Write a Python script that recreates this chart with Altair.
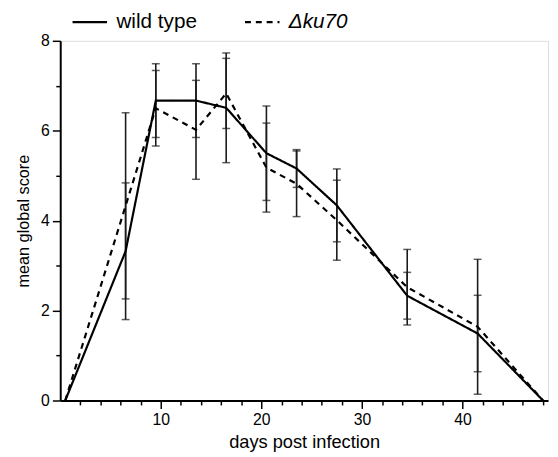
import altair as alt
import pandas as pd

days = [0.5, 6.5, 9.5, 13.5, 16.5, 20.5, 23.5, 27.5, 34.5, 41.5, 48]
wild_type = [0, 3.32, 6.67, 6.67, 6.51, 5.50, 5.16, 4.34, 2.33, 1.49, 0]
wild_err = [None, 1.52, 0.82, 0.82, 1.22, 1.05, 0.42, 0.81, 0.52, 0.85, None]
ku70 = [0, 4.33, 6.50, 6.02, 6.83, 5.18, 4.82, 4.01, 2.52, 1.64, 0]
ku70_err = [None, 2.07, 0.84, 1.10, 0.78, 0.99, 0.73, 0.89, 0.84, 1.50, None]
series_names = ["wild type", "\u0394ku70"]
x_major = [10, 20, 30, 40]
x_minor = [v for v in range(0, 49, 2) if v % 10 != 0]
y_major = [0, 2, 4, 6, 8]
y_minor = [1, 3, 5, 7]

rows = []
for name, vals, errs in [(series_names[0], wild_type, wild_err), (series_names[1], ku70, ku70_err)]:
    for d, v, e in zip(days, vals, errs):
        rows.append({"day": d, "score": v, "series": name,
                     "lo": None if e is None else v - e,
                     "hi": None if e is None else v + e})
df = pd.DataFrame(rows)

FONT = "Liberation Sans"

x_axis = alt.Axis(title="days post infection", orient="bottom",
                  values=x_major, labelOverlap=False, tickSize=8,
                  grid=False, domainColor="black", domainWidth=2,
                  tickColor="black", tickWidth=1.5, labelColor="black",
                  labelFontSize=16, labelFont=FONT, labelPadding=3,
                  titleFontSize=18.5, titleFont=FONT, titleFontWeight="normal",
                  titleColor="black", titlePadding=6)
y_axis = alt.Axis(title="mean global score", orient="left",
                  values=y_major, labelOverlap=False, tickSize=8,
                  grid=False, domainColor="black", domainWidth=2,
                  tickColor="black", tickWidth=1.5, labelColor="black",
                  labelFontSize=16, labelFont=FONT, labelPadding=3,
                  titleFontSize=16.5, titleFont=FONT, titleFontWeight="normal",
                  titleColor="black", titlePadding=9)
x_minor_axis = alt.Axis(title=None, orient="bottom", values=x_minor, labels=False,
                        domain=False, grid=False, tickSize=4.5, tickColor="black", tickWidth=1.5)
y_minor_axis = alt.Axis(title=None, orient="left", values=y_minor, labels=False,
                        domain=False, grid=False, tickSize=4.5, tickColor="black", tickWidth=1.5)

x_scale = alt.Scale(domain=[0, 48.5], nice=False, zero=False)
y_scale = alt.Scale(domain=[0, 8], nice=False)

base = alt.Chart(df)

lines = base.mark_line(color="black", strokeWidth=2.2).encode(
    x=alt.X("day:Q", scale=x_scale, axis=x_axis),
    y=alt.Y("score:Q", scale=y_scale, axis=y_axis),
    strokeDash=alt.StrokeDash("series:N",
        scale=alt.Scale(domain=series_names, range=[[1, 0], [6, 5]]),
        legend=alt.Legend(title=None, orient="none", legendX=11, legendY=-38,
                          direction="horizontal", symbolType="stroke",
                          symbolSize=1225, symbolStrokeWidth=2.2, symbolStrokeColor="black",
                          labelFontSize=21, labelFont=FONT, labelColor="black",
                          labelOffset=8, columnPadding=44, labelLimit=200,
                          labelFontStyle=alt.ExprRef(expr="datum.label === 'wild type' ? 'normal' : 'italic'"))),
    detail="series:N",
)

ebase = base.transform_filter("datum.lo != null")
err = ebase.mark_rule(color="#1a1a1a", strokeWidth=1.6).encode(
    x=alt.X("day:Q", scale=x_scale, axis=x_minor_axis),
    y=alt.Y("lo:Q", scale=y_scale, axis=y_minor_axis), y2="hi:Q")
cap_lo = ebase.mark_tick(color="#1a1a1a", thickness=1.5, size=8, orient="horizontal").encode(
    x=alt.X("day:Q", scale=x_scale, axis=None),
    y=alt.Y("lo:Q", scale=y_scale, axis=None))
cap_hi = ebase.mark_tick(color="#1a1a1a", thickness=1.5, size=8, orient="horizontal").encode(
    x=alt.X("day:Q", scale=x_scale, axis=None),
    y=alt.Y("hi:Q", scale=y_scale, axis=None))

chart = alt.layer(err, cap_lo, cap_hi, lines).resolve_axis(
    x="independent", y="independent"
).properties(
    width=495, height=365,
    autosize=alt.AutoSizeParams(type="none"),
    padding={"left": 53, "top": 30, "right": 2, "bottom": 52},
).configure_view(stroke="black", strokeWidth=2).configure(background="white")

chart.save("out.html", embed_options={"renderer": "svg", "actions": False})
